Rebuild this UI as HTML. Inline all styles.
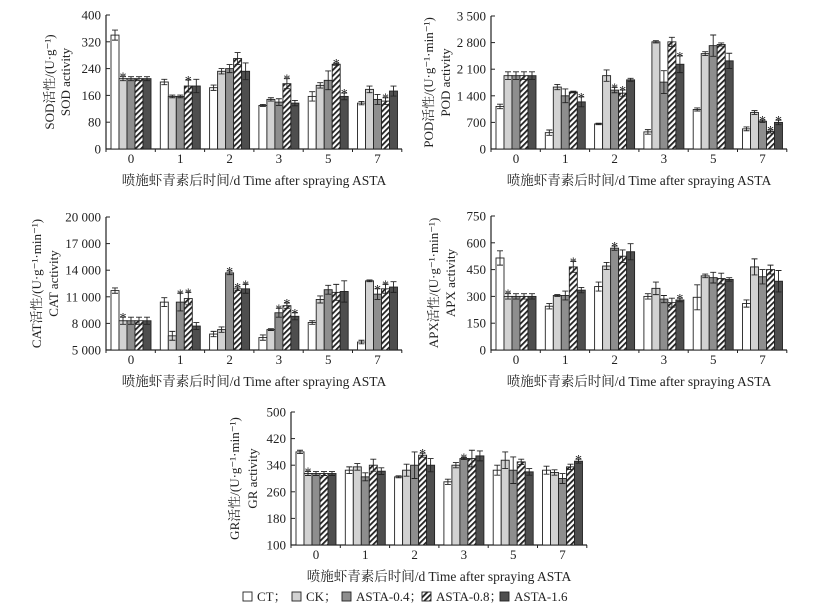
<!DOCTYPE html>
<html><head><meta charset="utf-8">
<style>
body{margin:0;background:#fff;}
svg{display:block;font-family:"Liberation Serif","Noto Serif CJK SC",serif;}
</style></head>
<body>
<svg id="c" width="826" height="612" viewBox="0 0 826 612"></svg>
<script>
const groups=["0","1","2","3","5","7"];
const seriesNames=["CT","CK","ASTA-0.4","ASTA-0.8","ASTA-1.6"];
// SOD
const sodCT=[340,200,183,130,157,137];
const sodCK=[210,157,232,148,190,178];
const sodA04=[210,157,240,140,205,148];
const sodA08=[210,188,270,195,253,143];
const sodA16=[210,188,232,137,157,173];
const sodErr=[[15,8,8,3,14,5],[6,4,8,5,8,10],[6,4,12,10,28,15],[6,18,18,15,3,10],[6,20,25,8,10,15]];
const sodStars=[[1,0],[3,1],[3,3],[3,4],[4,4],[3,5]];
const sodTicks=[0,80,160,240,320,400];
// POD
const podCT=[1120,430,660,450,1040,530];
const podCK=[1930,1630,1930,2820,2510,960];
const podA04=[1930,1400,1550,1760,2720,730];
const podA08=[1930,1500,1470,2820,2750,460];
const podA16=[1930,1240,1820,2230,2320,700];
const podErr=[[60,70,20,60,40,50],[100,70,150,30,50,50],[100,180,70,300,280,30],[100,20,80,120,40,40],[100,130,40,220,200,60]];
const podStars=[[4,1],[2,2],[3,2],[4,3],[2,5],[3,5],[4,5]];
const podTicks=[0,700,1400,2100,2800,3500];
const podTickLabels=["0","700","1 400","2 100","2 800","3 500"];
// CAT
const catCT=[11700,10400,6800,6400,8100,5900];
const catCK=[8300,6600,7300,7300,10700,12800];
const catA04=[8300,10400,13700,9200,11800,11300];
const catA08=[8300,10800,11900,10000,11500,11900];
const catA16=[8300,7700,11900,8800,11600,12100];
const catErr=[[300,500,300,300,200,200],[400,500,300,100,400,100],[400,1000,200,500,500,600],[400,700,200,300,900,500],[400,400,500,400,1200,600]];
const catStars=[[1,0],[2,1],[3,1],[2,2],[3,2],[4,2],[2,3],[3,3],[4,3],[2,5],[3,5]];
const catTicks=[5000,8000,11000,14000,17000,20000];
const catTickLabels=["5 000","8 000","11 000","14 000","17 000","20 000"];
// APX
const apxCT=[515,245,355,300,295,260];
const apxCK=[300,305,470,345,415,465];
const apxA04=[300,305,570,285,405,410];
const apxA08=[300,465,525,265,400,450];
const apxA16=[300,335,550,280,395,385];
const apxErr=[[40,15,25,15,70,20],[15,5,20,35,10,45],[15,25,12,20,30,40],[15,30,35,25,30,25],[15,15,45,10,10,60]];
const apxStars=[[1,0],[3,1],[2,2],[4,3]];
const apxTicks=[0,150,300,450,600,750];
// GR
const grCT=[380,325,305,290,325,325];
const grCK=[315,335,325,340,355,318];
const grA04=[315,305,340,360,325,300];
const grA08=[315,340,370,360,350,335];
const grA16=[315,322,340,368,320,352];
const grErr=[[5,10,3,8,15,12],[6,10,18,8,25,8],[6,12,40,3,40,15],[6,18,6,25,8,8],[6,10,20,15,10,6]];
const grStars=[[1,0],[3,2],[2,3],[4,5]];
const grTicks=[100,180,260,340,420,500];

const NS="http://www.w3.org/2000/svg";
const svg=document.getElementById('c');
const fills=["#fff","#d2d2d2","#8e8e8e","url(#hatch)","#4e4e4e"];
const defs=document.createElementNS(NS,'defs');
defs.innerHTML='<pattern id="hatch" patternUnits="userSpaceOnUse" width="4" height="4" patternTransform="rotate(45)"><rect width="4" height="4" fill="#fff"/><rect width="1.8" height="4" fill="#222"/></pattern>';
svg.appendChild(defs);
function el(tag,attrs,parent){const e=document.createElementNS(NS,tag);for(const k in attrs)e.setAttribute(k,attrs[k]);(parent||svg).appendChild(e);return e;}
function txt(s,attrs,parent){const t=el('text',attrs,parent);t.textContent=s;return t;}

function panel(o){
  const g=el('g',{});
  
  
  const y=v=>o.y1-(v-o.vmin)/(o.vmax-o.vmin)*(o.y1-o.y0);
  const xc=i=>o.ax+25+i*49.3;
  const ax=el('path',{d:`M${o.ax} ${o.y0}V${o.y1}H${o.ax+296}`,stroke:'#222','stroke-width':1.2,fill:'none'},g);
  
  
  o.ticks.forEach((t,i)=>{
    el('line',{x1:o.ax,x2:o.ax+4,y1:y(t),y2:y(t),stroke:'#222'},g);
    const lb=txt(o.tickLabels?o.tickLabels[i]:String(t),{x:o.ax-5,y:y(t)+4.5,'text-anchor':'end','font-size':13,fill:'#222'},g);
    
    
  });
  for(let i=0;i<=6;i++){const xx=o.ax+i*49.3;el('line',{x1:xx,x2:xx,y1:o.y1,y2:o.y1+3,stroke:'#222'},g);}
  groups.forEach((gname,i)=>{
    const lb=txt(gname,{x:xc(i),y:o.y1+14,'text-anchor':'middle','font-size':13,fill:'#222'},g);
    
    
  });
  const xt=txt('喷施虾青素后时间/d  Time after spraying ASTA',{x:o.ax+148,y:o.y1+36,'text-anchor':'middle','font-size':13.5,fill:'#222'},g);
  
  
  const cy=(o.y0+o.y1)/2;
  const t1=txt(o.title1,{x:0,y:0,'text-anchor':'middle','font-size':13,fill:'#222',transform:`translate(${o.ax+o.t1},${cy}) rotate(-90)`},g);
  
  
  const t2=txt(o.title2,{x:0,y:0,'text-anchor':'middle','font-size':13,fill:'#222',transform:`translate(${o.ax+o.t2},${cy}) rotate(-90)`},g);
  
  
  o.series.forEach((vals,s)=>{
    vals.forEach((v,i)=>{
      const bx=xc(i)+(s-2)*8-4;
      const top=y(v);
      const r=el('rect',{x:bx,y:top,width:8,height:o.y1-top,fill:fills[s],stroke:'#222','stroke-width':0.9},g);
      
      
      const e=o.err[s][i];
      const cx=bx+4;
      el('path',{d:`M${cx} ${y(v-e)}V${y(v+e)}M${cx-3} ${y(v+e)}H${cx+3}M${cx-3} ${y(v-e)}H${cx+3}`,stroke:'#222','stroke-width':0.9,fill:'none'},g);
    });
  });
  o.stars.forEach(([s,i])=>{
    const v=o.series[s][i],e=o.err[s][i];
    const st=txt('*',{x:xc(i)+(s-2)*8,y:y(v+e)+5,'text-anchor':'middle','font-size':14,fill:'#222'},g);
    
    
  });
}
panel({name:'sod',ax:106,y0:15,y1:149,vmin:0,vmax:400,ticks:sodTicks,series:[sodCT,sodCK,sodA04,sodA08,sodA16],err:sodErr,stars:sodStars,title1:'SOD活性/(U·g⁻¹)',title2:'SOD activity',t1:-52,t2:-36});
panel({name:'pod',ax:491,y0:16,y1:149,vmin:0,vmax:3500,ticks:podTicks,tickLabels:podTickLabels,series:[podCT,podCK,podA04,podA08,podA16],err:podErr,stars:podStars,title1:'POD活性/(U·g⁻¹·min⁻¹)',title2:'POD activity',t1:-58,t2:-41});
panel({name:'cat',ax:106,y0:217,y1:350,vmin:5000,vmax:20000,ticks:catTicks,tickLabels:catTickLabels,series:[catCT,catCK,catA04,catA08,catA16],err:catErr,stars:catStars,title1:'CAT活性/(U·g⁻¹·min⁻¹)',title2:'CAT activity',t1:-65,t2:-48});
panel({name:'apx',ax:491,y0:216,y1:350,vmin:0,vmax:750,ticks:apxTicks,series:[apxCT,apxCK,apxA04,apxA08,apxA16],err:apxErr,stars:apxStars,title1:'APX活性/(U·g⁻¹·min⁻¹)',title2:'APX activity',t1:-53,t2:-36});
panel({name:'gr',ax:291,y0:412,y1:545,vmin:100,vmax:500,ticks:grTicks,series:[grCT,grCK,grA04,grA08,grA16],err:grErr,stars:grStars,title1:'GR活性/(U·g⁻¹·min⁻¹)',title2:'GR activity',t1:-52,t2:-34});
const leg=el('g',{});


const legX=[243,292,342,422,500];
const legLabels=["CT；","CK；","ASTA-0.4；","ASTA-0.8；","ASTA-1.6"];
seriesNames.forEach((n,s)=>{
  const r=el('rect',{x:legX[s],y:592,width:9,height:9,fill:fills[s],stroke:'#222','stroke-width':0.9},leg);
  
  
  const t=txt(legLabels[s],{x:legX[s]+14,y:601,'font-size':13,fill:'#222'},leg);
  
  
});
</script>
</body></html>
